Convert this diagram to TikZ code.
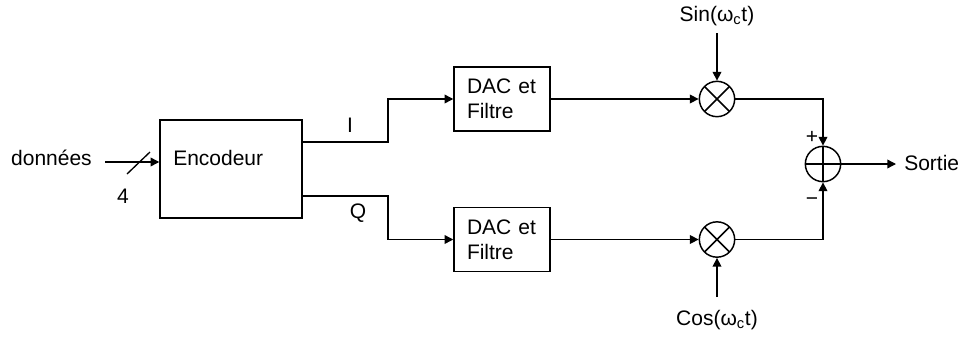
\documentclass[tikz,border=0pt]{standalone}
\usepackage{fontspec}
\setmainfont{Liberation Sans}
\usetikzlibrary{arrows.meta,calc}
\begin{document}
\begin{tikzpicture}[x=0.75pt,y=-0.75pt,
  font=\fontsize{15.75}{18.75}\selectfont,
  blk/.style={draw,line width=1.1pt,inner sep=0pt},
  dacbox/.style={blk,minimum width=72pt,minimum height=48pt,text width=52.5pt,inner xsep=9.75pt,align=left},
  op/.style={draw,line width=1.1pt,circle,minimum size=26.5pt,inner sep=0pt},
  mult/.style={op,path picture={\draw[line width=1.1pt] ($(path picture bounding box.center)+(-9.4pt,-9.4pt)$) -- ($(path picture bounding box.center)+(9.4pt,9.4pt)$) ($(path picture bounding box.center)+(-9.4pt,9.4pt)$) -- ($(path picture bounding box.center)+(9.4pt,-9.4pt)$);}},
  summ/.style={op,path picture={\draw[line width=1.1pt] ($(path picture bounding box.center)+(-14pt,0)$) -- ($(path picture bounding box.center)+(14pt,0)$) ($(path picture bounding box.center)+(0,-14pt)$) -- ($(path picture bounding box.center)+(0,14pt)$);}},
  ln/.style={line width=1pt},
  arr/.style={ln,-{Triangle[length=6.5pt,width=6.5pt]}},
  lbl/.style={inner sep=0pt}]
\useasboundingbox (0,0) rectangle (960,336);
% blocks
\node[blk,minimum width=106.5pt,minimum height=73.5pt] (enc) at (231,169) {};
\node[lbl,anchor=west] (enctxt) at (173,158) {Encodeur};
\node[dacbox] (dac1) at (502,99) {DAC et\\Filtre};
\node[dacbox] (dac2) at (502,239.5) {DAC et\\Filtre};
\node[mult] (m1) at (717,99) {};
\node[mult] (m2) at (717,239.5) {};
\node[summ] (sum) at (823,164) {};
% labels
\node[lbl,anchor=east] (don) at (92,158) {données};
\node[lbl] (four) at (123,196) {4};
\node[lbl] (ilbl) at (350,125) {I};
\node[lbl] (qlbl) at (358,213) {Q};
\node[lbl] (sin) at (717,16) {Sin(ω\textsubscript{c}t)};
\node[lbl] (cos) at (717,320) {Cos(ω\textsubscript{c}t)};
\node[lbl] (plus) at (812,137) {+};
\node[lbl] (minus) at (812,202) {\textminus};
\node[lbl,anchor=west] (sortie) at (904,163) {Sortie};
% coordinates
\coordinate (din) at (105,162);
\coordinate (iout) at (302,142);
\coordinate (qout) at (302,196);
\coordinate (sintop) at (717,33);
\coordinate (cosbot) at (717,297);
\coordinate (outend) at (896,164);
% connectors
\draw[arr] (din) -- (enc.west |- din);
\draw[ln] (127,174) -- (150,152);
\draw[arr] (iout) -- ++(86,0) |- (dac1.west);
\draw[arr] (qout) -- ++(86,0) |- (dac2.west);
\draw[arr] (dac1.east) -- (m1.west);
\draw[arr] (dac2.east) -- (m2.west);
\draw[arr] (sintop) -- (m1.north);
\draw[arr] (cosbot) -- (m2.south);
\draw[arr] (m1.east) -| (sum.north);
\draw[arr] (m2.east) -| (sum.south);
\draw[arr] (sum.east) -- (outend);
\end{tikzpicture}
\end{document}
